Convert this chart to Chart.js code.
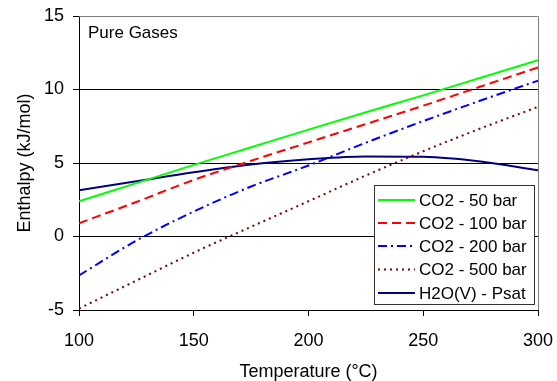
<!DOCTYPE html>
<html>
<head>
<meta charset="utf-8">
<script src="https://cdn.jsdelivr.net/npm/chart.js@4/dist/chart.umd.min.js"></script>
<style>
html,body{margin:0;padding:0;background:#fff;}
#wrap{width:557px;height:381px;position:relative;}
</style>
</head>
<body>
<div id="wrap"><canvas id="c" width="557" height="381"></canvas></div>
<script>
const temperatures = [100, 125, 150, 175, 200, 225, 250, 275, 300];
const co2_50bar  = [2.4, 3.63, 4.87, 6.07, 7.27, 8.45, 9.6, 10.8, 12.0];
const co2_100bar = [0.9, 2.35, 3.85, 5.15, 6.4, 7.65, 8.9, 10.2, 11.5];
const co2_200bar = [-2.65, -0.28, 1.7, 3.4, 4.83, 6.38, 7.85, 9.25, 10.6];
const co2_500bar = [-4.9, -3.0, -1.1, 0.66, 2.4, 4.15, 5.8, 7.35, 8.82];
const h2o_psat   = [3.15, 3.76, 4.37, 4.9, 5.25, 5.45, 5.42, 5.1, 4.5];
const seriesNames = ['CO2 - 50 bar', 'CO2 - 100 bar', 'CO2 - 200 bar', 'CO2 - 500 bar', 'H2O(V) - Psat'];
const chartNote = 'Pure Gases';
const xTitle = 'Temperature (°C)';
const yTitle = 'Enthalpy (kJ/mol)';

const FONT = '"Liberation Sans", Arial, sans-serif';
const toPts = arr => arr.map((v, i) => ({x: temperatures[i], y: v}));

const styles = [
  {color: '#00ff00', dash: []},
  {color: '#ff0000', dash: [9, 5]},
  {color: '#0000ff', dash: [9, 4, 2, 4]},
  {color: '#800000', dash: [2, 4]},
  {color: '#000080', dash: []}
];
const seriesData = [co2_50bar, co2_100bar, co2_200bar, co2_500bar, h2o_psat];

const datasets = seriesData.map((d, i) => ({
  label: seriesNames[i],
  data: toPts(d),
  borderColor: styles[i].color,
  backgroundColor: styles[i].color,
  borderDash: styles[i].dash,
  borderWidth: 2,
  pointRadius: 0,
  fill: false,
  cubicInterpolationMode: 'monotone'
}));

const decor = {
  id: 'decor',
  afterDatasetsDraw(chart) {
    const ctx = chart.ctx;
    const a = chart.chartArea;
    ctx.save();
    ctx.strokeStyle = '#808080';
    ctx.lineWidth = 1;
    ctx.beginPath();
    ctx.moveTo(a.left, a.top + 0.5);
    ctx.lineTo(a.right + 0.5, a.top + 0.5);
    ctx.lineTo(a.right + 0.5, a.bottom);
    ctx.stroke();
    ctx.fillStyle = '#000';
    ctx.font = '17px ' + FONT;
    ctx.textBaseline = 'middle';
    ctx.textAlign = 'left';
    ctx.fillText(chartNote, 88, 33);
    const bx = 374.5, by = 185.5, bw = 160, bh = 119;
    ctx.fillStyle = '#fff';
    ctx.fillRect(bx, by, bw, bh);
    ctx.strokeStyle = '#333';
    ctx.lineWidth = 1;
    ctx.strokeRect(bx, by, bw, bh);
    const rows = [200, 223, 246, 269.5, 293];
    chart.data.datasets.forEach((ds, i) => {
      const y = rows[i];
      ctx.strokeStyle = ds.borderColor;
      ctx.lineWidth = 2;
      ctx.setLineDash(ds.borderDash);
      ctx.beginPath();
      ctx.moveTo(378, y);
      ctx.lineTo(415, y);
      ctx.stroke();
      ctx.setLineDash([]);
      ctx.fillStyle = '#000';
      ctx.font = '17px ' + FONT;
      ctx.textBaseline = 'middle';
      ctx.fillText(ds.label, 419, y + 1);
    });
    ctx.restore();
  }
};

new Chart(document.getElementById('c'), {
  type: 'line',
  data: {datasets},
  options: {
    responsive: false,
    animation: false,
    layout: {padding: {left: 0, right: 19, top: 16, bottom: 0}},
    plugins: {legend: {display: false}, tooltip: {enabled: false}},
    scales: {
      x: {
        type: 'linear', min: 100, max: 300,
        afterFit(s) { s.height = 71; s.paddingLeft = 0; s.paddingRight = 0; },
        ticks: {stepSize: 50, color: '#000', font: {family: FONT, size: 18}, padding: 14, maxRotation: 0},
        grid: {drawOnChartArea: false, drawTicks: true, tickLength: 6, color: '#000'},
        border: {color: '#000', width: 1},
        title: {display: true, text: xTitle, color: '#000', font: {family: FONT, size: 18, lineHeight: 1.0}, padding: {top: 0, bottom: 0}}
      },
      y: {
        min: -5, max: 15,
        afterFit(s) { s.width = 79; s.paddingTop = 0; s.paddingBottom = 0; },
        ticks: {stepSize: 5, color: '#000', font: {family: FONT, size: 18}, padding: 9},
        grid: {
          color: c => (c.tick && c.tick.value === 15) ? '#808080' : '#000',
          tickColor: '#000', tickLength: 6, lineWidth: 1
        },
        border: {color: '#000', width: 1},
        title: {display: true, text: yTitle, color: '#000', font: {family: FONT, size: 18, lineHeight: 1.2}, padding: {top: 14, bottom: 0}}
      }
    }
  },
  plugins: [decor]
});
</script>
</body>
</html>
